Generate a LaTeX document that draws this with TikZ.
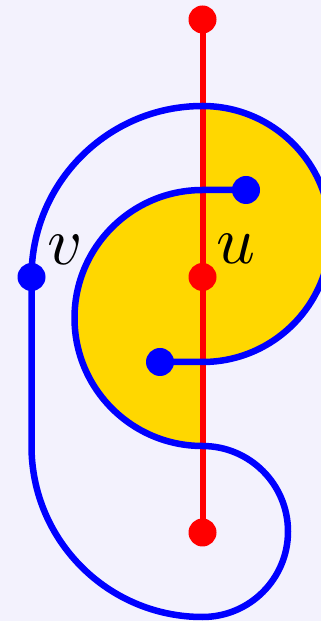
\documentclass[tikz,border=0pt]{standalone}
\usetikzlibrary{calc}
\definecolor{bgc}{RGB}{243,242,253}
\definecolor{gold}{RGB}{255,215,0}
\definecolor{pblue}{RGB}{0,0,255}
\definecolor{pred}{RGB}{255,0,0}
\tikzset{
  reddot/.style={circle,fill=pred,inner sep=0pt,minimum size=28pt},
  bluedot/.style={circle,fill=pblue,inner sep=0pt,minimum size=28pt},
  redline/.style={draw=pred,line width=6pt},
  blueline/.style={draw=pblue,line width=6.5pt},
  lbl/.style={scale=6.8,inner sep=0pt}
}
\begin{document}
\begin{tikzpicture}[x=1pt,y=1pt]
\fill[bgc] (0,0) rectangle (321,621);
\useasboundingbox (0,0) rectangle (321,621);
% coordinates
\coordinate (top) at (202.5,601.5);
\coordinate (mid) at (202.5,344);
\coordinate (bot) at (202.5,88.5);
\coordinate (pv) at (31.5,344);
\coordinate (pa) at (246,431);
\coordinate (pb) at (160,259);
% yellow regions
\fill[gold] (202.5,515) arc[start angle=90,end angle=-90,radius=128] -- cycle;
\fill[gold] (202.5,431) arc[start angle=90,end angle=270,radius=128] -- cycle;
% red line
\draw[redline] (top) -- (bot);
% blue curves
\draw[blueline] (pv) arc[start angle=180,end angle=90,radius=171]
  arc[start angle=90,end angle=-90,radius=128] -- (pb);
\draw[blueline] (pa) -- (202.5,431) arc[start angle=90,end angle=270,radius=128]
  arc[start angle=90,end angle=-90,radius=85.5]
  arc[start angle=-90,end angle=-180,radius=171] -- (pv);
% dots
\node[reddot] (t) at (top) {};
\node[reddot] (u) at (mid) {};
\node[reddot] (b) at (bot) {};
\node[bluedot] (v) at (pv) {};
\node[bluedot] (a) at (pa) {};
\node[bluedot] (c) at (pb) {};
% labels
\node[lbl] (lu) at (236,372) {$u$};
\node[lbl] (lv) at (65,371) {$v$};
\end{tikzpicture}
\end{document}
